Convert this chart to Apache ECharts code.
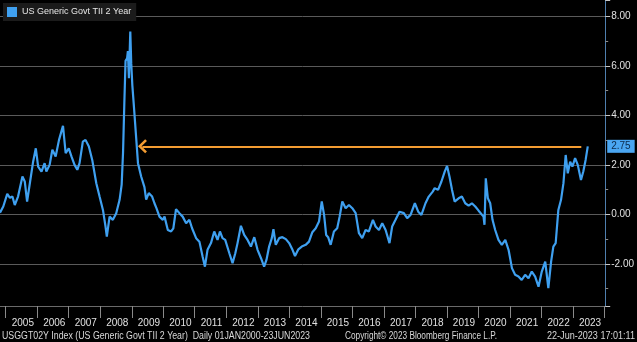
<!DOCTYPE html>
<html><head><meta charset="utf-8">
<script src="https://cdn.jsdelivr.net/npm/echarts@6/dist/echarts.min.js"></script>
<style>html,body{margin:0;padding:0;background:#000;}#c{width:637px;height:342px;}</style>
</head><body><div id="c"></div>
<script>
const seriesName = 'US Generic Govt TII 2 Year';
const dates = ['2004-10-27','2004-12-04','2005-01-19','2005-02-19','2005-03-20','2005-04-16','2005-05-24','2005-07-14','2005-08-10','2005-09-06','2005-09-29','2005-11-15','2005-12-16','2006-01-12','2006-02-20','2006-03-28','2006-04-17','2006-05-25','2006-06-26','2006-08-03','2006-09-11','2006-10-27','2006-11-27','2007-01-02','2007-02-02','2007-03-10','2007-04-11','2007-05-07','2007-06-14','2007-07-15','2007-08-23','2007-10-01','2007-11-17','2007-12-25','2008-02-02','2008-03-03','2008-03-18','2008-04-19','2008-05-27','2008-07-05','2008-08-13','2008-09-06','2008-09-22','2008-10-07','2008-10-21','2008-11-08','2008-11-17','2008-11-29','2008-12-15','2008-12-26','2009-01-08','2009-01-26','2009-02-21','2009-03-14','2009-04-20','2009-05-28','2009-06-17','2009-07-17','2009-08-25','2009-09-21','2009-10-14','2009-11-18','2009-12-27','2010-01-16','2010-02-23','2010-04-02','2010-04-28','2010-05-29','2010-07-07','2010-08-14','2010-09-23','2010-10-31','2010-12-01','2011-01-17','2011-02-24','2011-04-02','2011-04-29','2011-05-29','2011-07-08','2011-08-15','2011-09-22','2011-10-20','2011-11-19','2011-12-20','2012-02-06','2012-03-14','2012-04-15','2012-05-11','2012-06-19','2012-07-27','2012-09-04','2012-10-13','2012-11-21','2012-12-29','2013-02-07','2013-03-15','2013-04-11','2013-05-12','2013-06-12','2013-07-01','2013-07-28','2013-09-05','2013-10-13','2013-11-22','2013-12-30','2014-02-07','2014-03-08','2014-04-16','2014-05-25','2014-07-10','2014-08-17','2014-09-25','2014-11-03','2014-12-11','2015-01-12','2015-02-08','2015-03-04','2015-03-27','2015-04-25','2015-06-02','2015-07-10','2015-08-07','2015-09-07','2015-10-16','2015-11-23','2016-01-01','2016-02-09','2016-03-18','2016-04-25','2016-06-03','2016-07-11','2016-08-27','2016-09-27','2016-11-05','2016-12-13','2017-01-21','2017-03-07','2017-04-07','2017-05-16','2017-07-01','2017-08-20','2017-09-28','2017-11-06','2017-12-26','2018-02-03','2018-03-12','2018-04-28','2018-06-05','2018-07-21','2018-08-13','2018-09-21','2018-10-30','2018-12-07','2019-01-03','2019-01-31','2019-03-02','2019-04-01','2019-05-17','2019-06-24','2019-08-02','2019-09-10','2019-10-18','2019-11-26','2020-01-04','2020-03-01','2020-03-12','2020-03-27','2020-04-20','2020-05-17','2020-06-13','2020-07-14','2020-08-21','2020-09-29','2020-11-08','2020-12-16','2021-01-24','2021-03-02','2021-04-10','2021-05-17','2021-06-26','2021-08-04','2021-09-11','2021-10-20','2021-11-28','2022-01-05','2022-02-14','2022-03-22','2022-04-23','2022-05-19','2022-06-15','2022-07-16','2022-08-16','2022-09-13','2022-10-09','2022-11-02','2022-11-30','2022-12-26','2023-01-26','2023-02-26','2023-04-04','2023-05-01','2023-05-28','2023-06-22'];
const values = [0.07,0.32,0.83,0.67,0.72,0.38,0.72,1.53,1.33,0.52,0.59,2.13,2.67,1.93,1.73,2.07,1.73,2.00,2.61,2.34,3.01,3.58,2.47,2.67,2.34,2.00,1.80,2.07,2.94,3.01,2.74,2.20,1.26,0.72,0.18,-0.49,-0.90,-0.09,-0.22,0.05,0.59,1.2,2.5,4.5,6.2,6.3,6.6,5.5,7.39,6.1,5.2,4.36,3.1,2.07,1.53,1.1,0.6,0.86,0.72,0.45,0.25,-0.09,-0.22,-0.09,-0.63,-0.69,-0.56,0.21,0.05,-0.09,-0.36,-0.22,-0.56,-0.96,-1.10,-1.70,-2.11,-1.43,-1.16,-0.69,-1.03,-0.69,-0.96,-1.03,-1.57,-1.97,-1.57,-1.16,-0.46,-0.83,-1.03,-1.30,-0.92,-1.43,-1.77,-2.11,-1.84,-1.30,-0.96,-0.60,-1.23,-0.96,-0.92,-1.00,-1.16,-1.43,-1.68,-1.41,-1.30,-1.23,-1.10,-0.72,-0.56,-0.29,0.52,-0.02,-0.83,-0.92,-1.23,-0.69,-0.56,-0.09,0.52,0.25,0.38,0.25,0.05,-0.76,-0.96,-0.63,-0.69,-0.22,-0.49,-0.63,-0.36,-0.63,-1.16,-0.49,-0.22,0.11,0.05,-0.15,-0.02,0.45,0.11,-0.02,0.45,0.72,0.92,1.06,0.99,1.33,1.73,1.96,1.53,0.99,0.52,0.65,0.72,0.45,0.35,0.45,0.32,0.15,-0.09,-0.42,1.46,0.65,0.45,-0.22,-0.63,-1.03,-1.23,-1.03,-1.43,-2.17,-2.44,-2.51,-2.65,-2.44,-2.58,-2.31,-2.51,-2.92,-2.31,-1.91,-2.98,-1.91,-1.30,-1.16,0.18,0.59,1.26,2.40,1.66,2.13,1.93,2.27,2.00,1.39,1.73,2.20,2.75];
const lastValue = 2.75;
const arrowStart = '2009-05-05';
const arrowEnd = '2023-04-08';
const xMin = '2004-10-27';
const xMax = '2024-01-10';
const yMin = -3.70;
const yMax = 8.66;
const footerLeft = 'USGGT02Y Index (US Generic Govt TII 2 Year)  Daily 01JAN2000-23JUN2023';
const footerMid = 'Copyright\u00a9 2023 Bloomberg Finance L.P.';
const footerRight = '22-Jun-2023 17:01:11';

const FONT = 'Liberation Sans, Arial, sans-serif';
const mctx = document.createElement('canvas').getContext('2d');
function fitScale(text, size, target) {
  mctx.font = size + 'px Liberation Sans';
  return target / mctx.measureText(text).width;
}
const YEAR = 365 * 24 * 3600 * 1000;

const chart = echarts.init(document.getElementById('c'), null, {renderer: 'canvas'});
chart.setOption({
  animation: false,
  backgroundColor: '#000',
  grid: {left: 0, right: 30, top: 0, bottom: 36},
  legend: {
    data: [seriesName], left: 3, top: 3, padding: [4, 5, 4, 4],
    backgroundColor: '#1b1b1b', icon: 'rect', itemWidth: 10, itemHeight: 10, itemGap: 4,
    textStyle: {color: '#e6e6e6', fontSize: 9, fontFamily: FONT}
  },
  xAxis: {
    type: 'time', min: +new Date(xMin), max: +new Date(xMax),
    splitNumber: 20, minInterval: YEAR, maxInterval: YEAR + 2 * 86400000,
    axisLine: {show: true, onZero: false, lineStyle: {color: '#6a6a6a', width: 1}},
    axisTick: {show: true, length: 12, lineStyle: {color: '#8a8a8a'}},
    splitLine: {show: false},
    axisLabel: {
      color: '#e0e0e0', fontSize: 10, fontFamily: FONT, margin: 12, align: 'left', padding: [0, 0, 0, 6],
      showMinLabel: false, showMaxLabel: false,
      formatter: function (v) {
        const d = new Date(v);
        const y = d.getFullYear();
        if (y < 2005 || y > 2023) return '';
        return String(y);
      }
    }
  },
  yAxis: {
    type: 'value', position: 'right', min: yMin, max: yMax, splitNumber: 6,
    axisLine: {show: true, lineStyle: {color: '#4f7fae', width: 1}},
    axisTick: {show: true, length: 5, lineStyle: {color: '#c8c8c8'}},
    minorTick: {show: true, splitNumber: 2, length: 3, lineStyle: {color: '#8a8a8a'}},
    splitLine: {show: true, showMinLine: false, showMaxLine: false, lineStyle: {color: '#5a5a5a', width: 1}},
    axisLabel: {
      color: '#e0e0e0', fontSize: 10, fontFamily: FONT, margin: 6,
      showMinLabel: false, showMaxLabel: false,
      formatter: function (v) { return v.toFixed(2); }
    }
  },
  series: [{
    name: seriesName, type: 'line', showSymbol: false, symbol: 'none',
    data: dates.map(function (d, i) { return [d, values[i]]; }),
    lineStyle: {color: '#3fa0f0', width: 2.2}, itemStyle: {color: '#3fa0f0'},
    markLine: {
      silent: true, symbol: ['none', 'none'], animation: false,
      data: [
        [
          {coord: [arrowStart, lastValue], symbol: 'path://M0,10 L10,0 L20,10 L17.5,12.5 L10,5 L2.5,12.5 Z', symbolSize: [14, 9]},
          {coord: [arrowEnd, lastValue], symbol: 'none'}
        ],
        {
          yAxis: lastValue, symbol: 'none',
          lineStyle: {color: 'rgba(0,0,0,0)', width: 1},
          label: {
            show: true, position: 'end', formatter: lastValue.toFixed(2), distance: 2,
            backgroundColor: '#4aa6f2', color: '#0b2a4a', fontSize: 10, fontFamily: FONT,
            padding: [2, 4, 1, 4]
          }
        }
      ],
      lineStyle: {color: '#f39c32', width: 2, type: 'solid'},
      label: {show: false}
    }
  }],
  graphic: [
    {type: 'text', left: 2, top: 331, scaleX: fitScale(footerLeft, 10, 308), style: {text: footerLeft, fill: '#d8d8d8', font: '10px Liberation Sans'}},
    {type: 'text', left: 345, top: 331, scaleX: fitScale(footerMid, 10, 152), style: {text: footerMid, fill: '#d8d8d8', font: '10px Liberation Sans'}},
    {type: 'text', left: 547, top: 331, scaleX: fitScale(footerRight, 10, 88), style: {text: footerRight, fill: '#d8d8d8', font: '10px Liberation Sans'}}
  ]
});
</script></body></html>
